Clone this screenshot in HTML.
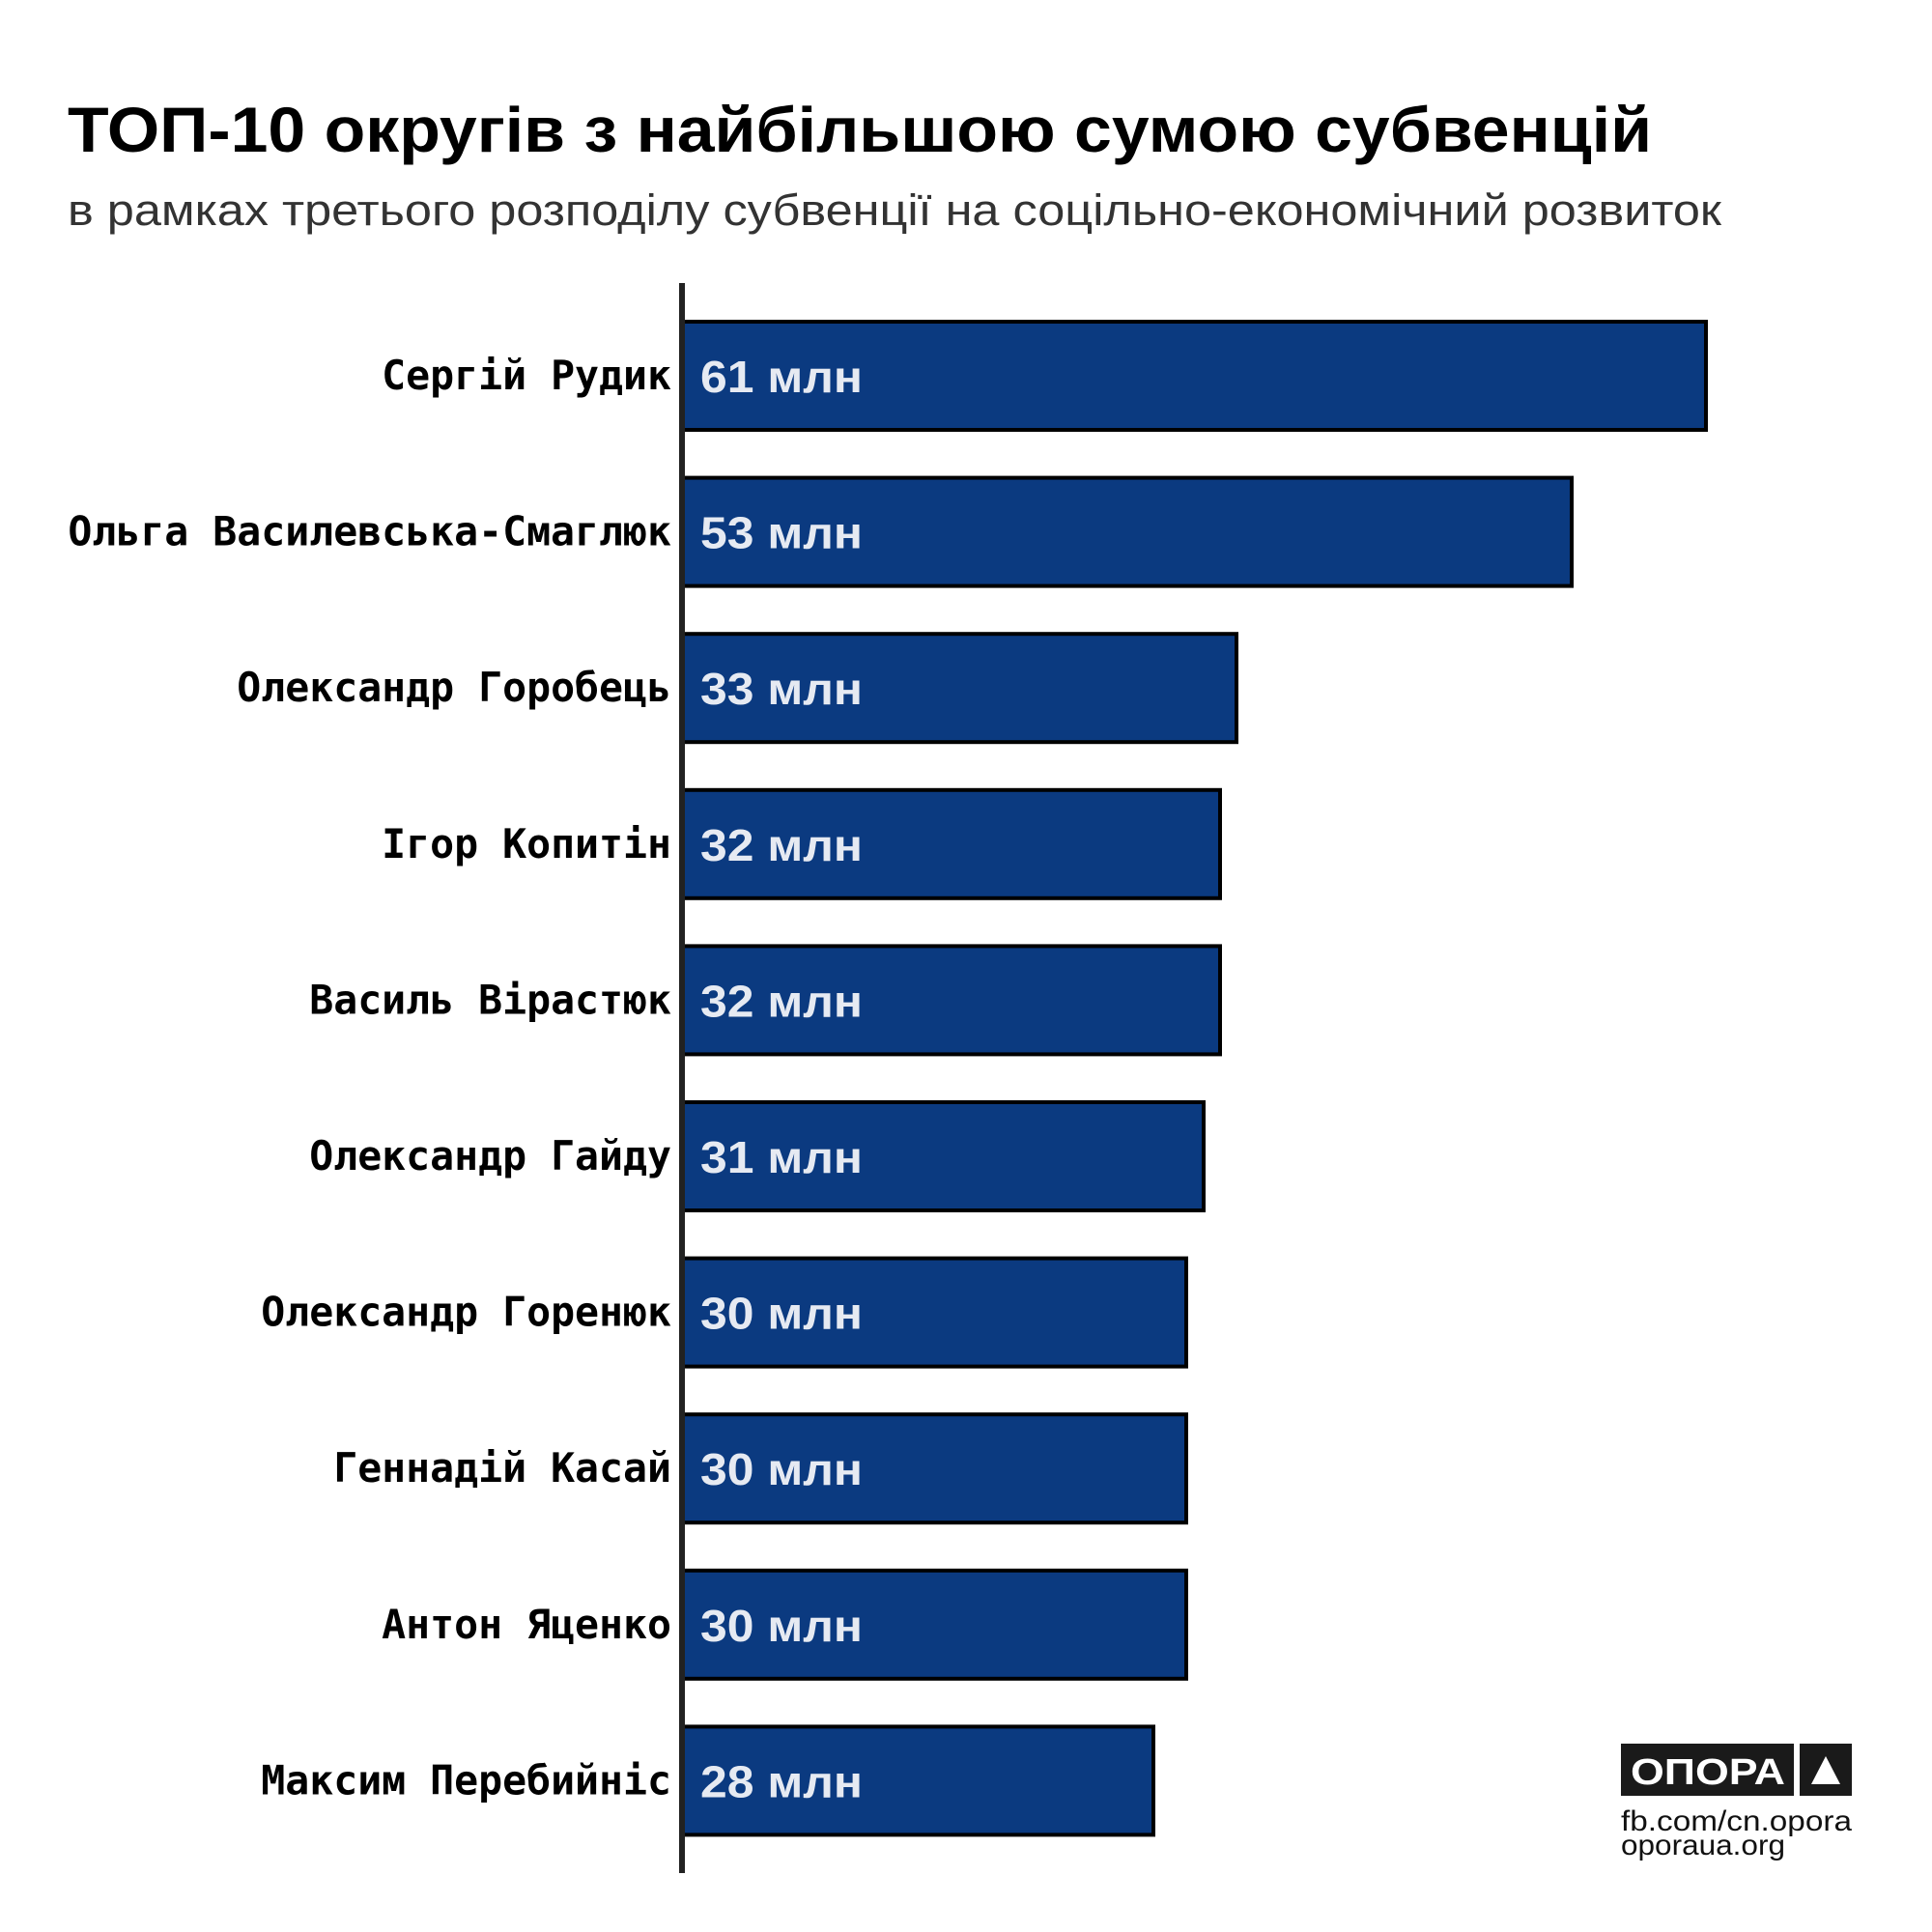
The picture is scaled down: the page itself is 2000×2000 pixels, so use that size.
<!DOCTYPE html>
<html><head><meta charset="utf-8"><style>html,body{margin:0;padding:0;background:#fff}svg{display:block}</style></head>
<body>
<svg width="2000" height="2000" viewBox="0 0 2000 2000" xmlns="http://www.w3.org/2000/svg">
<rect width="2000" height="2000" fill="#fff"/>
<text x="70" y="157" font-family="Liberation Sans, sans-serif" font-weight="bold" font-size="66" fill="#000" textLength="1640" lengthAdjust="spacingAndGlyphs">ТОП-10 округів з найбільшою сумою субвенцій</text>
<text x="70" y="233" font-family="Liberation Sans, sans-serif" font-size="45" fill="#333" textLength="1712" lengthAdjust="spacingAndGlyphs">в рамках третього розподілу субвенції на соцільно-економічний розвиток</text>
<g stroke="#000" stroke-width="4" fill="#0b3a80">
<rect x="707" y="333" width="1059" height="112"/>
<rect x="707" y="494.6" width="920" height="112"/>
<rect x="707" y="656.2" width="573" height="112"/>
<rect x="707" y="817.8" width="556" height="112"/>
<rect x="707" y="979.4" width="556" height="112"/>
<rect x="707" y="1141" width="539" height="112"/>
<rect x="707" y="1302.6" width="521" height="112"/>
<rect x="707" y="1464.2" width="521" height="112"/>
<rect x="707" y="1625.8" width="521" height="112"/>
<rect x="707" y="1787.4" width="487" height="112"/>
</g>
<rect x="703" y="293" width="6" height="1646" fill="#222"/>
<g font-family="DejaVu Sans Mono, Liberation Mono, monospace" font-weight="bold" font-size="41.5" fill="#000" text-anchor="end">
<text x="695" y="403">Сергій Рудик</text>
<text x="695" y="564.6">Ольга Василевська-Смаглюк</text>
<text x="695" y="726.2">Олександр Горобець</text>
<text x="695" y="887.8">Ігор Копитін</text>
<text x="695" y="1049.4">Василь Вірастюк</text>
<text x="695" y="1211">Олександр Гайду</text>
<text x="695" y="1372.6">Олександр Горенюк</text>
<text x="695" y="1534.2">Геннадій Касай</text>
<text x="695" y="1695.8">Антон Яценко</text>
<text x="695" y="1857.4">Максим Перебийніс</text>
</g>
<g font-family="Liberation Sans, sans-serif" font-weight="bold" font-size="46" fill="#e6eaf2">
<text x="725" y="406" textLength="168" lengthAdjust="spacingAndGlyphs">61 млн</text>
<text x="725" y="567.6" textLength="168" lengthAdjust="spacingAndGlyphs">53 млн</text>
<text x="725" y="729.2" textLength="168" lengthAdjust="spacingAndGlyphs">33 млн</text>
<text x="725" y="890.8" textLength="168" lengthAdjust="spacingAndGlyphs">32 млн</text>
<text x="725" y="1052.4" textLength="168" lengthAdjust="spacingAndGlyphs">32 млн</text>
<text x="725" y="1214" textLength="168" lengthAdjust="spacingAndGlyphs">31 млн</text>
<text x="725" y="1375.6" textLength="168" lengthAdjust="spacingAndGlyphs">30 млн</text>
<text x="725" y="1537.2" textLength="168" lengthAdjust="spacingAndGlyphs">30 млн</text>
<text x="725" y="1698.8" textLength="168" lengthAdjust="spacingAndGlyphs">30 млн</text>
<text x="725" y="1860.4" textLength="168" lengthAdjust="spacingAndGlyphs">28 млн</text>
</g>
<rect x="1678" y="1805" width="179" height="54" fill="#1a1a1a"/>
<rect x="1863" y="1805" width="54" height="54" fill="#1a1a1a"/>
<text x="1688" y="1847" font-family="Liberation Sans, sans-serif" font-weight="bold" font-size="38" fill="#fff" textLength="160" lengthAdjust="spacingAndGlyphs">ОПОРА</text>
<polygon points="1890,1818 1905,1847 1875,1847" fill="#fff"/>
<text x="1678" y="1895" font-family="Liberation Sans, sans-serif" font-size="30" fill="#111" textLength="239" lengthAdjust="spacingAndGlyphs">fb.com/cn.opora</text>
<text x="1678" y="1920" font-family="Liberation Sans, sans-serif" font-size="30" fill="#111" textLength="170" lengthAdjust="spacingAndGlyphs">oporaua.org</text>
</svg>
</body></html>
